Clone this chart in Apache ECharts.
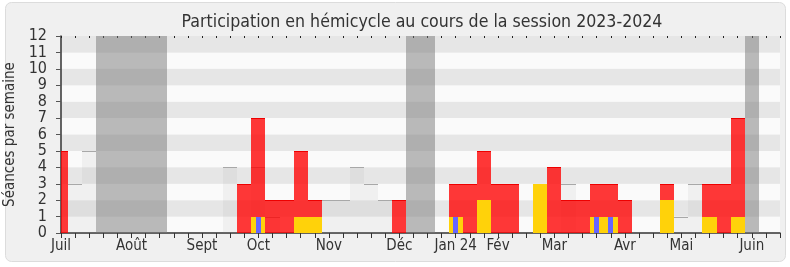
<!DOCTYPE html>
<html>
<head>
<meta charset="utf-8">
<script src="https://cdn.jsdelivr.net/npm/echarts@6/dist/echarts.min.js"></script>
<style>
html,body{margin:0;padding:0;background:#ffffff;}
#chart{width:790px;height:267px;}
</style>
</head>
<body>
<div id="chart"></div>
<script>
// 52 weeks of the 2023-2024 session (index 0 = first week of July 2023)
const weeks = Array.from({length: 52}, (_, i) => 'S' + i);
// month labels: week index where the label sits, and the text
const monthIdx   = [0, 5, 10, 14, 19, 24, 28, 31, 35, 40, 44, 49];
const monthNames = ['Juil', 'Août', 'Sept', 'Oct', 'Nov', 'Déc', 'Jan 24', 'Fév', 'Mar', 'Avr', 'Mai', 'Juin'];
const yTicks = [0,1,2,3,4,5,6,7,8,9,10,11,12];

// weekly values (index = week)
const presences     = [5,0,0,0,0,0,0,0,0,0,0,0,0,3,7,2,2,5,2,0,0,0,0,0,2,0,0,0,3,3,5,3,3,0,0,4,2,2,3,3,2,0,0,3,0,0,3,3,7,0,0,0];
const interventions = [0,0,0,0,0,0,0,0,0,0,0,0,0,0,1,0,0,1,1,0,0,0,0,0,0,0,0,0,1,0,2,0,0,0,3,0,0,0,1,1,0,0,0,2,0,0,1,0,1,0,0,0];
const questions     = [0,0,0,0,0,0,0,0,0,0,0,0,0,0,1,0,0,0,0,0,0,0,0,0,0,0,0,0,1,0,0,0,0,0,0,0,0,0,1,1,0,0,0,0,0,0,0,0,0,0,0,0];
const mediane       = [0,3,5,0,0,0,0,0,0,0,0,0,4,0,4,1,0,0,0,2,2,4,3,2,0,0,0,0,0,0,0,0,0,0,0,0,3,0,0,0,0,0,0,0,1,3,0,0,0,0,0,0];
const vacances      = [0,0,0,12,12,12,12,12,0,0,0,0,0,0,0,0,0,0,0,0,0,0,0,0,0,12,12,0,0,0,0,0,0,0,0,0,0,0,0,0,0,0,0,0,0,0,0,0,0,12,0,0];

const labels = weeks.map((w, i) => { const k = monthIdx.indexOf(i); return k >= 0 ? monthNames[k] : ''; });
const FONT = 'DejaVu Sans Condensed';

function pairs(arr){ return arr.map((v, i) => [i, v]); }

function rectRenderer(fill, topLine, pxWidth){
  return function(params, api){
    const i = api.value(0), v = api.value(1);
    if (!v) return null;
    const top = api.coord([i, v]);
    const base = api.coord([i, 0]);
    const step = api.coord([1, 0])[0] - api.coord([0, 0])[0];
    const cs = params.coordSys;
    let x0, x1;
    if (pxWidth) {
      x0 = Math.round(top[0] - pxWidth / 2); x1 = x0 + pxWidth;
    } else {
      const origin = api.coord([0, 0])[0];
      x0 = Math.round(origin + (i - 0.5) * step);
      x1 = Math.round(origin + (i + 0.5) * step);
    }
    x0 = Math.max(x0, Math.round(cs.x)); x1 = Math.min(x1, Math.round(cs.x + cs.width));
    if (x1 <= x0) return null;
    const y0 = Math.round(top[1]), y1 = Math.round(base[1]);
    const children = [{type: 'rect', shape: {x: x0, y: y0, width: x1 - x0, height: y1 - y0}, style: {fill: fill}}];
    if (topLine) {
      children.push({type: 'rect', shape: {x: x0, y: y0, width: x1 - x0, height: 1}, style: {fill: topLine}});
    }
    return {type: 'group', children: children};
  };
}

const chart = echarts.init(document.getElementById('chart'), null, {renderer: 'canvas'});
chart.setOption({
  animation: false,
  backgroundColor: '#ffffff',
  graphic: [{
    type: 'rect', z: -100, silent: true,
    shape: {x: 5.5, y: 2.5, width: 780, height: 259, r: 6},
    style: {fill: '#f0f0f0', stroke: '#dcdcdc', lineWidth: 1}
  }],
  title: {
    text: 'Participation en hémicycle au cours de la session 2023-2024',
    left: 417, top: 8, textAlign: 'center',
    textStyle: {fontFamily: FONT, fontSize: 17.6, fontWeight: 'normal', color: '#333333'}
  },
  grid: {left: 61, right: 10, top: 36, bottom: 34, containLabel: false, outerBoundsMode: 'none'},
  xAxis: [{
    type: 'category', data: weeks, boundaryGap: false, position: 'bottom',
    axisLine: {show: true, lineStyle: {color: '#333333', width: 1.5}},
    axisTick: {show: true, interval: 0, length: 5, lineStyle: {color: '#333333'}},
    axisLabel: {interval: 0, margin: 6, formatter: (v, i) => labels[i],
      fontFamily: FONT, fontSize: 15, color: '#333333'},
    splitLine: {show: false}
  }, {
    type: 'category', data: weeks, boundaryGap: false, position: 'top',
    axisLine: {show: false},
    axisTick: {show: true, interval: 0, inside: true, length: 2, lineStyle: {color: '#222222'}},
    axisLabel: {show: false},
    splitLine: {show: false}
  }],
  yAxis: {
    type: 'value', min: 0, max: 12, interval: 1,
    name: 'Séances par semaine', nameLocation: 'middle', nameGap: 39,
    nameTextStyle: {fontFamily: FONT, fontSize: 15, color: '#333333'},
    axisLine: {show: true, lineStyle: {color: '#333333', width: 1.5}},
    axisTick: {show: true, length: 5, lineStyle: {color: '#555555'}},
    axisLabel: {margin: 14, fontFamily: FONT, fontSize: 16, color: '#333333',
      formatter: v => yTicks.indexOf(v) >= 0 ? String(v) : ''},
    splitLine: {show: false},
    splitArea: {show: true, areaStyle: {color: ['#fafafa', '#e6e6e6']}}
  },
  series: [
    {name: 'Médiane', type: 'custom', renderItem: rectRenderer('rgba(140,140,140,0.09)', '#a8a8a8'), data: pairs(mediane)},
    {name: 'Vacances', type: 'custom', renderItem: rectRenderer('rgba(120,120,120,0.5)', null), data: pairs(vacances)},
    {name: 'Présences', type: 'custom', renderItem: rectRenderer('rgba(255,0,0,0.78)', '#ee0000'), data: pairs(presences)},
    {name: 'Interventions', type: 'custom', renderItem: rectRenderer('#ffd20a', null), data: pairs(interventions)},
    {name: 'Questions', type: 'custom', xAxisIndex: 1, renderItem: rectRenderer('#6666ff', null, 5), data: pairs(questions)}
  ]
});
</script>
</body>
</html>
